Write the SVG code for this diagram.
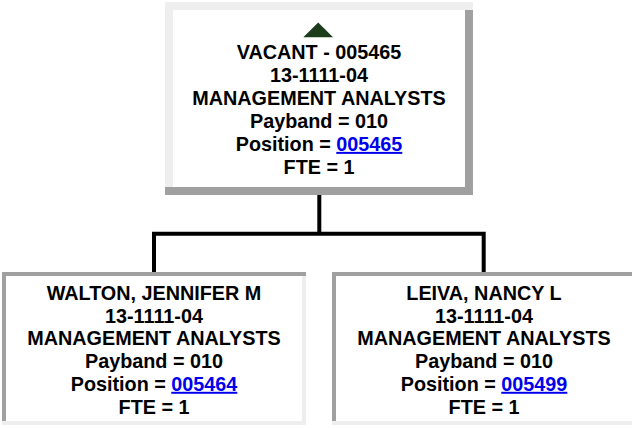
<svg xmlns="http://www.w3.org/2000/svg" width="632" height="428" viewBox="0 0 632 428">
<style>
.t{font-family:"Liberation Sans",Arial,sans-serif;font-weight:bold;font-size:19.8px;fill:#000;text-anchor:middle}
.lk{fill:#0000ee;text-decoration:underline}
.lt{fill:#eeeeee}
.dk{fill:#a0a0a0}
.conn{fill:none;stroke:#000;stroke-width:4;stroke-linejoin:miter}
</style>
<rect width="632" height="428" fill="#fff"/>
<g id="connectors">
<path class="conn" d="M319.3,195 V233.7"/>
<path class="conn" d="M154,272 V233.7 H483.7 V272"/>
</g>
<g id="node-vacant">
<rect x="165" y="2" width="308" height="193" fill="#fff"/>
<rect class="lt" x="165" y="2" width="308" height="8"/>
<rect class="lt" x="165" y="10" width="8" height="177"/>
<rect class="dk" x="465" y="10" width="8" height="177"/>
<rect class="dk" x="165" y="187" width="308" height="8"/>
<polygon points="303.3,37.3 333,37.3 318.2,22.5" fill="#1b3b1b"/>
<text class="t" x="319" y="59.3">VACANT - 005465</text>
<text class="t" x="319" y="82.2">13-1111-04</text>
<text class="t" x="319" y="105.1">MANAGEMENT ANALYSTS</text>
<text class="t" x="319" y="128">Payband = 010</text>
<text class="t" x="319" y="150.9">Position = <tspan class="lk">005465</tspan></text>
<text class="t" x="319" y="173.8">FTE = 1</text>
</g>
<g id="node-walton">
<rect x="2" y="272" width="304" height="153" fill="#fff"/>
<rect class="dk" x="2" y="272" width="304" height="4"/>
<rect class="dk" x="2" y="276" width="4" height="145"/>
<rect class="lt" x="302" y="276" width="4" height="145"/>
<rect class="lt" x="2" y="421" width="304" height="4"/>
<text class="t" x="154" y="300">WALTON, JENNIFER M</text>
<text class="t" x="154" y="322.7">13-1111-04</text>
<text class="t" x="154" y="345.4">MANAGEMENT ANALYSTS</text>
<text class="t" x="154" y="368.1">Payband = 010</text>
<text class="t" x="154" y="390.8">Position = <tspan class="lk">005464</tspan></text>
<text class="t" x="154" y="413.5">FTE = 1</text>
</g>
<g id="node-leiva">
<rect x="332" y="272" width="304" height="153" fill="#fff"/>
<rect class="dk" x="332" y="272" width="304" height="4"/>
<rect class="dk" x="332" y="276" width="4" height="145"/>
<rect class="lt" x="632" y="276" width="4" height="145"/>
<rect class="lt" x="332" y="421" width="304" height="4"/>
<text class="t" x="484" y="300">LEIVA, NANCY L</text>
<text class="t" x="484" y="322.7">13-1111-04</text>
<text class="t" x="484" y="345.4">MANAGEMENT ANALYSTS</text>
<text class="t" x="484" y="368.1">Payband = 010</text>
<text class="t" x="484" y="390.8">Position = <tspan class="lk">005499</tspan></text>
<text class="t" x="484" y="413.5">FTE = 1</text>
</g>
</svg>
